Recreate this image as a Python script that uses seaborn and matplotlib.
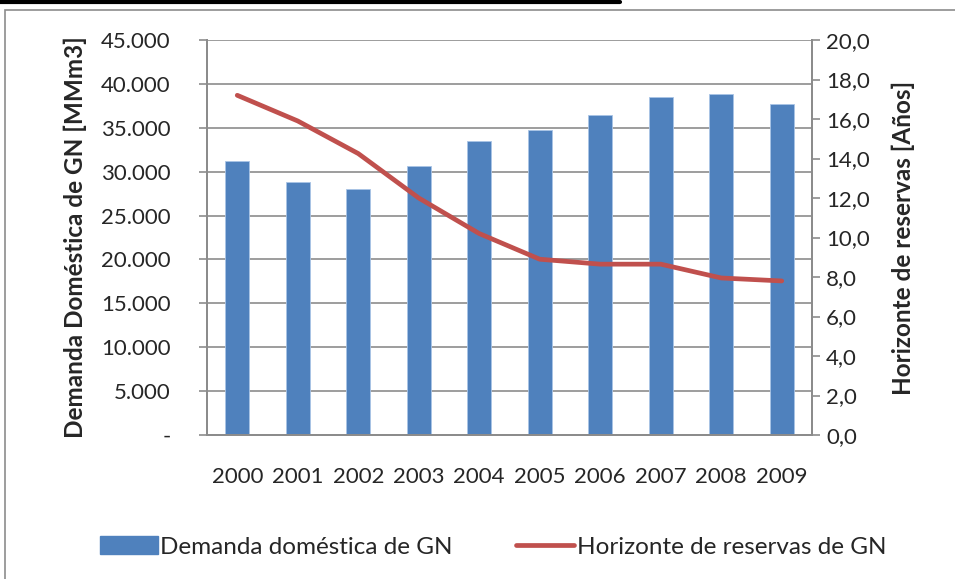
import matplotlib
matplotlib.use("Agg")
import matplotlib.pyplot as plt
import seaborn as sns
import pandas as pd
import numpy as np
from matplotlib.patches import Patch, Rectangle
from matplotlib.lines import Line2D
from matplotlib.ticker import FixedLocator

years = ["2000", "2001", "2002", "2003", "2004", "2005", "2006", "2007", "2008", "2009"]
demanda = [31200, 28800, 28000, 30700, 33500, 34700, 36400, 38500, 38900, 37700]
horizonte = [17.2, 15.9, 14.25, 12.0, 10.2, 8.9, 8.65, 8.65, 7.95, 7.8]
left_ticks = [0, 5000, 10000, 15000, 20000, 25000, 30000, 35000, 40000, 45000]
left_labels = ["-", "5.000", "10.000", "15.000", "20.000", "25.000", "30.000", "35.000", "40.000", "45.000"]
right_ticks = [0, 2, 4, 6, 8, 10, 12, 14, 16, 18, 20]
right_labels = ["0,0", "2,0", "4,0", "6,0", "8,0", "10,0", "12,0", "14,0", "16,0", "18,0", "20,0"]

sns.set_style("white")
plt.rcParams["font.family"] = ["Lato", "DejaVu Sans"]

BLUE = "#4F81BD"
RED = "#C0504D"
GRID = "#8C8C8C"

df = pd.DataFrame({"year": years, "demanda": demanda, "horizonte": horizonte})

fig = plt.figure(figsize=(9.55, 5.79), dpi=100)
W, H = 955, 579
ax = fig.add_axes([207 / W, 1 - 435 / H, (812 - 207) / W, (435 - 40) / H])

sns.barplot(data=df, x="year", y="demanda", color=BLUE, width=0.4, ax=ax,
            saturation=1, edgecolor="#A9C4E6", linewidth=0.6, zorder=2)
ax.set_ylim(0, 45000)
ax.set_xlim(-0.5, 9.5)
ax.yaxis.set_major_locator(FixedLocator(left_ticks))
ax.set_yticklabels(left_labels)
ax.yaxis.grid(True, color=GRID, linewidth=1.2, zorder=0)
ax.set_axisbelow(True)
ax.set_xlabel("")
ax.set_ylabel("Demanda Doméstica de GN [MMm3]", fontsize=17.5, fontweight="bold", labelpad=10)
ax.tick_params(axis="y", labelsize=16, direction="out", length=6, color=GRID, width=1.2, left=True, pad=20)
ax.tick_params(axis="x", labelsize=16, length=0, pad=23)
ax.set_xticks(range(len(years)))
ax.set_xticklabels(years)
ax.set_xticks(np.arange(-0.5, 10, 1), minor=True)
ax.tick_params(axis="x", which="minor", direction="out", length=6, color=GRID, width=1.2)
for s in ["left", "bottom", "right"]:
    ax.spines[s].set_color(GRID)
    ax.spines[s].set_linewidth(1.4)
ax.spines["top"].set_visible(False)

ax2 = ax.twinx()
sns.lineplot(data=df, x="year", y="horizonte", color=RED, linewidth=3.4, ax=ax2,
             solid_capstyle="round", zorder=3, sort=False)
ax2.set_ylim(0, 20)
ax2.yaxis.set_major_locator(FixedLocator(right_ticks))
ax2.set_yticklabels(right_labels)
ax2.set_ylabel("Horizonte de reservas [Años]", fontsize=17.5, fontweight="bold", labelpad=16)
ax2.tick_params(axis="y", labelsize=16, direction="out", length=6, color=GRID, width=1.2, right=True, pad=4)
for s in ["left", "bottom", "right"]:
    ax2.spines[s].set_color(GRID)
    ax2.spines[s].set_linewidth(1.4)
ax2.spines["top"].set_visible(False)
ax2.set_xlim(-0.5, 9.5)

fig.patches.append(Rectangle((5 / W, -0.01), 1.0, 1 - 10 / H + 0.01, transform=fig.transFigure,
                             fill=False, edgecolor="#8C8C8C", linewidth=1.2))
fig.lines.append(Line2D([0, 620 / W], [1 - 1.5 / H, 1 - 1.5 / H], transform=fig.transFigure,
                        color="black", linewidth=3))

handles = [Patch(facecolor=BLUE, edgecolor=BLUE),
           Line2D([0], [0], color=RED, linewidth=3.4, solid_capstyle="round")]
fig.legend(handles, ["Demanda doméstica de GN", "Horizonte de reservas de GN"],
           loc="center", bbox_to_anchor=(493 / W, 1 - 547 / H), ncol=2, frameon=False,
           fontsize=17.5, handlelength=2.4, handletextpad=0.1, columnspacing=2.6,
           handleheight=0.75)

fig.savefig("out.png", dpi=100)
